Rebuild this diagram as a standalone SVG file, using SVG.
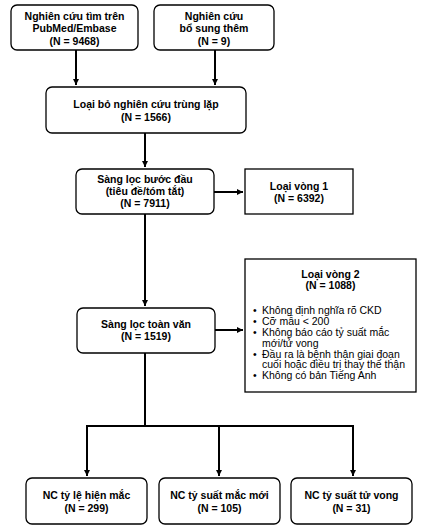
<svg xmlns="http://www.w3.org/2000/svg" width="441" height="532" viewBox="0 0 441 532">
<defs>
<marker id="ah" viewBox="0 0 10 10" refX="10" refY="5" markerWidth="3.2" markerHeight="3.2" orient="auto" markerUnits="strokeWidth">
<path d="M0,0 L10,5 L0,10 z" fill="#000"/>
</marker>
</defs>
<style>
.box{fill:#fff;stroke:#000;stroke-width:1.3}
.t{font-family:"Liberation Sans",Arial,sans-serif;font-size:10.5px;font-weight:bold;text-anchor:middle;fill:#000}
.l{font-family:"Liberation Sans",Arial,sans-serif;font-size:10.5px;fill:#000}
.c{fill:none;stroke:#000;stroke-width:2}
</style>
<rect width="441" height="532" fill="#fff"/>
<g id="connectors">
<path class="c" d="M76,50 V85" marker-end="url(#ah)"/>
<path class="c" d="M215,50 V85" marker-end="url(#ah)"/>
<path class="c" d="M145,133 V167" marker-end="url(#ah)"/>
<path class="c" d="M214,192 H243" marker-end="url(#ah)"/>
<path class="c" d="M145,214 V306" marker-end="url(#ah)"/>
<path class="c" d="M215,330 H243" marker-end="url(#ah)"/>
<path class="c" d="M145,353 V426"/>
<path class="c" d="M87,426 H353"/>
<path class="c" d="M87,425 V476" marker-end="url(#ah)"/>
<path class="c" d="M219,426 V476" marker-end="url(#ah)"/>
<path class="c" d="M353,425 V476" marker-end="url(#ah)"/>
</g>
<g id="n1">
<rect class="box" x="11" y="5" width="127" height="45" rx="6"/>
<text class="t" x="74.5" y="19.5">Nghiên cứu tìm trên</text>
<text class="t" x="74.5" y="32">PubMed/Embase</text>
<text class="t" x="74.5" y="44.5">(N = 9468)</text>
</g>
<g id="n2">
<rect class="box" x="154" y="5" width="120" height="45" rx="6"/>
<text class="t" x="214" y="19.5">Nghiên cứu</text>
<text class="t" x="214" y="32">bổ sung thêm</text>
<text class="t" x="214" y="44.5">(N = 9)</text>
</g>
<g id="n3">
<rect class="box" x="46" y="87" width="200" height="46" rx="6"/>
<text class="t" x="146" y="108">Loại bỏ nghiên cứu trùng lặp</text>
<text class="t" x="146" y="120.5">(N = 1566)</text>
</g>
<g id="n4">
<rect class="box" x="76" y="169" width="138" height="45" rx="6"/>
<text class="t" x="145" y="183">Sàng lọc bước đầu</text>
<text class="t" x="145" y="195">(tiêu đề/tóm tắt)</text>
<text class="t" x="145" y="207">(N = 7911)</text>
</g>
<g id="n5">
<rect class="box" x="245" y="169" width="108" height="45"/>
<text class="t" x="299" y="190">Loại vòng 1</text>
<text class="t" x="299" y="201.5">(N = 6392)</text>
</g>
<g id="n6">
<rect class="box" x="77" y="308" width="138" height="45" rx="6"/>
<text class="t" x="146" y="328">Sàng lọc toàn văn</text>
<text class="t" x="146" y="340">(N = 1519)</text>
</g>
<g id="n7">
<rect class="box" x="245" y="259" width="171" height="133"/>
<text class="t" x="330.5" y="278">Loại vòng 2</text>
<text class="t" x="330.5" y="288.5">(N = 1088)</text>
<text class="l" x="253" y="314">•</text><text class="l" x="262" y="314">Không định nghĩa rõ CKD</text>
<text class="l" x="253" y="325">•</text><text class="l" x="262" y="325">Cỡ mẫu &lt; 200</text>
<text class="l" x="253" y="336">•</text><text class="l" x="262" y="336">Không báo cáo tỷ suất mắc</text>
<text class="l" x="262" y="346.7">mới/tử vong</text>
<text class="l" x="253" y="357.5">•</text><text class="l" x="262" y="357.5">Đầu ra là bệnh thận giai đoạn</text>
<text class="l" x="262" y="368.3">cuối hoặc điều trị thay thế thận</text>
<text class="l" x="253" y="379">•</text><text class="l" x="262" y="379">Không có bản Tiếng Anh</text>
</g>
<g id="n8">
<rect class="box" x="26" y="478" width="121" height="46" rx="6"/>
<text class="t" x="86.5" y="499">NC tỷ lệ hiện mắc</text>
<text class="t" x="86.5" y="511.5">(N = 299)</text>
</g>
<g id="n9">
<rect class="box" x="159" y="478" width="121" height="46" rx="6"/>
<text class="t" x="219.5" y="499">NC tỷ suất mắc mới</text>
<text class="t" x="219.5" y="511.5">(N = 105)</text>
</g>
<g id="n10">
<rect class="box" x="291" y="478" width="121" height="46" rx="6"/>
<text class="t" x="351.5" y="499">NC tỷ suất tử vong</text>
<text class="t" x="351.5" y="511.5">(N = 31)</text>
</g>
</svg>
